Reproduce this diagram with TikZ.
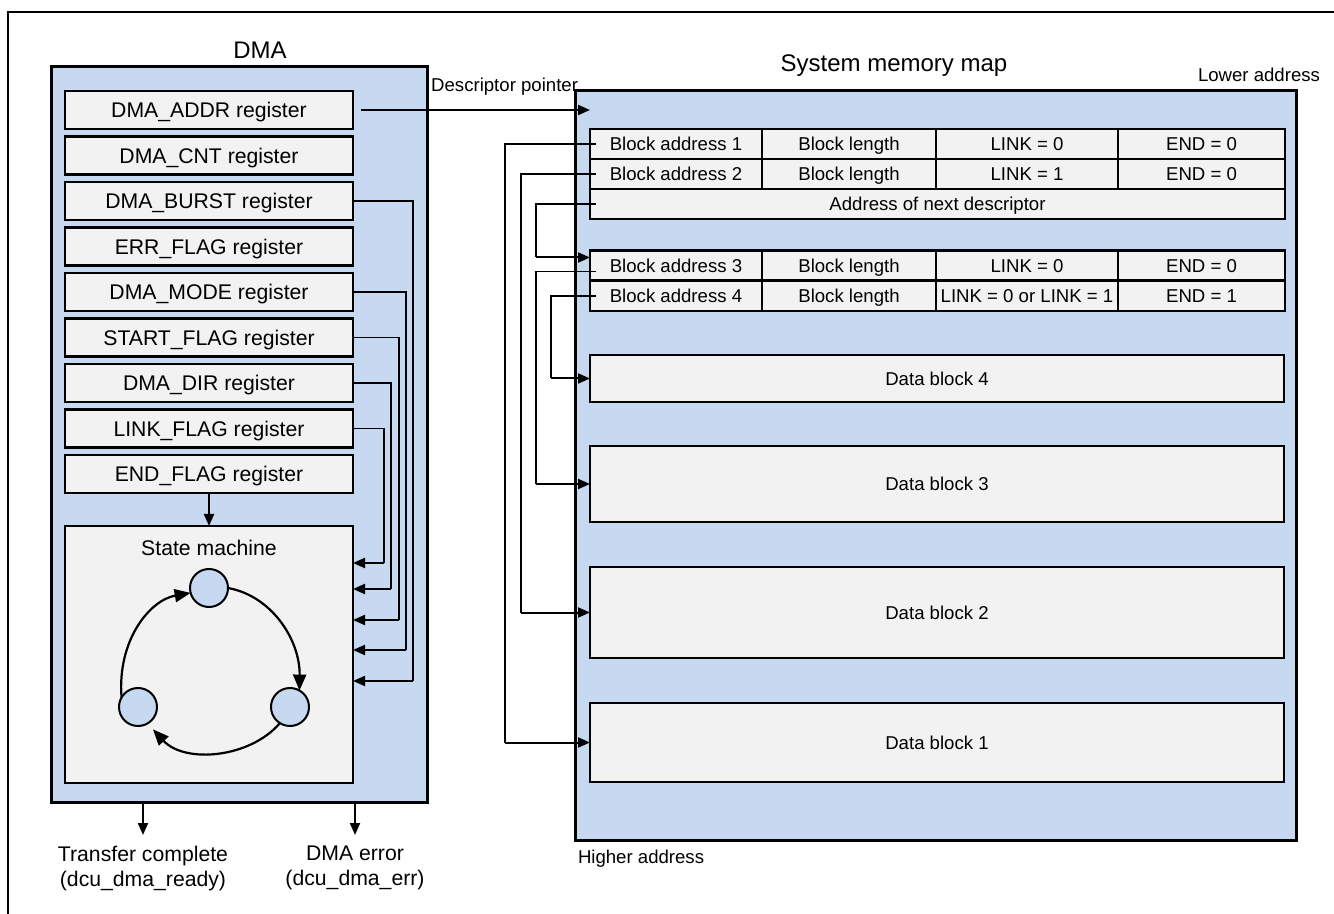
\documentclass[tikz,border=0pt]{standalone}
\usepackage{fontspec}
\setmainfont{Liberation Sans}
\usetikzlibrary{arrows.meta}
\definecolor{bluefill}{RGB}{198,217,240}
\definecolor{grayfill}{RGB}{242,242,242}
\tikzset{
 big/.style={font=\fontsize{10.6}{12.5}\selectfont, text height=7.6pt, text depth=0pt},
 small/.style={font=\fontsize{9.3}{11}\selectfont, text height=6.66pt, text depth=0pt},
 ttl/.style={font=\fontsize{12}{14}\selectfont, text height=8.6pt, text depth=0pt},
 bigml/.style={font=\fontsize{10.6}{12.5}\selectfont},
 panel/.style={draw, line width=1.5pt, fill=bluefill, inner sep=0pt, outer sep=0pt},
 reg/.style={draw, line width=1.3pt, fill=grayfill, minimum width=144pt, minimum height=19pt, inner sep=0pt, outer sep=0pt, big},
 cell/.style={draw, line width=1.3pt, fill=grayfill, minimum height=15pt, inner sep=0pt, outer sep=0pt, small},
 datab/.style={draw, line width=1.3pt, fill=grayfill, minimum width=347pt, inner sep=0pt, outer sep=0pt, small},
 stnode/.style={circle, draw, line width=1pt, fill=bluefill, minimum size=19pt, inner sep=0pt, outer sep=0pt},
 thinline/.style={line width=0.6pt},
 arr/.style={line width=1pt, -{Triangle[length=6pt,width=5pt]}},
 carr/.style={line width=1.1pt, -{Triangle[length=8pt,width=6.5pt]}},
 lbl/.style={inner sep=0pt, outer sep=0pt},
}
\begin{document}
\begin{tikzpicture}[x=0.5pt,y=-0.5pt]
\useasboundingbox (0,0) rectangle (1334,914);
% outer frame
\draw[line width=1pt] (8,930) -- (8,12) -- (1350,12);

% DMA panel
\node[panel, minimum width=188pt, minimum height=367.5pt] (dma) at (239,434.5) {};
\node[lbl, ttl] (dmat) at (260,50) {DMA};
\node[reg] (addr)  at (209,110)   {DMA\_ADDR register};
\node[reg] (cnt)   at (209,155.5) {DMA\_CNT register};
\node[reg] (burst) at (209,201)   {DMA\_BURST register};
\node[reg] (err)   at (209,246.5) {ERR\_FLAG register};
\node[reg] (mode)  at (209,292)   {DMA\_MODE register};
\node[reg] (start) at (209,337.5) {START\_FLAG register};
\node[reg] (dir)   at (209,383)   {DMA\_DIR register};
\node[reg] (link)  at (209,428.5) {LINK\_FLAG register};
\node[reg] (endf)  at (209,474)   {END\_FLAG register};
\node[reg, minimum height=128.5pt] (sm) at (209,654.5) {};
\node[lbl, big] (smt) at (209,548) {State machine};
\node[stnode] (s1) at (209,588) {};
\node[stnode] (s2) at (290,707) {};
\node[stnode] (s3) at (138,707) {};
\draw[carr] (s1.east) .. controls (272,596) and (300,640) .. (s2.60);
\draw[carr, shorten >=4pt] (s2.238) .. controls (250,758) and (185,764) .. (s3.300);
\draw[carr] (s3.150) .. controls (117,640) and (150,600) .. (s1.195);
\draw[arr] (endf.south) -- (sm.north);

% register -> state machine lines
\coordinate (k1) at (384,563);
\coordinate (k2) at (391,589);
\coordinate (k3) at (399,620);
\coordinate (k4) at (406,650);
\coordinate (k5) at (413,681);
\draw[thinline] (link.east) -| (k1);
\draw[thinline] (dir.east) -| (k2);
\draw[thinline] (start.east) -| (k3);
\draw[thinline] (mode.east) -| (k4);
\draw[thinline] (burst.east) -| (k5);
\draw[arr] (k1) -- (k1 -| sm.east);
\draw[arr] (k2) -- (k2 -| sm.east);
\draw[arr] (k3) -- (k3 -| sm.east);
\draw[arr] (k4) -- (k4 -| sm.east);
\draw[arr] (k5) -- (k5 -| sm.east);

% outputs
\coordinate (o1) at (143,835);
\coordinate (o2) at (355,835);
\draw[arr] (o1 |- dma.south) -- (o1);
\draw[arr] (o2 |- dma.south) -- (o2);
\node[lbl, bigml, align=center, anchor=north] (tc) at (143,846) {Transfer complete\\(dcu\_dma\_ready)};
\node[lbl, bigml, align=center, anchor=north] (de) at (355,846) {DMA error\\(dcu\_dma\_err)};

% memory map
\node[panel, minimum width=360.5pt, minimum height=374.5pt] (mem) at (935.5,465.5) {};
\node[lbl, ttl] (memt) at (894,63) {System memory map};
\node[lbl, small, anchor=east] (lower) at (1320,75) {Lower address};
\node[lbl, small, anchor=west] (higher) at (578,857) {Higher address};

\node[cell, minimum width=86pt]   (r1c1) at (676,144)    {Block address 1};
\node[cell, minimum width=87pt]   (r1c2) at (849,144)    {Block length};
\node[cell, minimum width=91pt]   (r1c3) at (1027,144)   {LINK = 0};
\node[cell, minimum width=83.5pt] (r1c4) at (1201.5,144) {END = 0};
\node[cell, minimum width=86pt]   (r2c1) at (676,174)    {Block address 2};
\node[cell, minimum width=87pt]   (r2c2) at (849,174)    {Block length};
\node[cell, minimum width=91pt]   (r2c3) at (1027,174)   {LINK = 1};
\node[cell, minimum width=83.5pt] (r2c4) at (1201.5,174) {END = 0};
\node[cell, minimum width=347.5pt] (nd) at (937.5,204) {Address of next descriptor};
\node[cell, minimum width=86pt]   (r3c1) at (676,265.5)    {Block address 3};
\node[cell, minimum width=87pt]   (r3c2) at (849,265.5)    {Block length};
\node[cell, minimum width=91pt]   (r3c3) at (1027,265.5)   {LINK = 0};
\node[cell, minimum width=83.5pt] (r3c4) at (1201.5,265.5) {END = 0};
\node[cell, minimum width=86pt]   (r4c1) at (676,296)    {Block address 4};
\node[cell, minimum width=87pt]   (r4c2) at (849,296)    {Block length};
\node[cell, minimum width=91pt]   (r4c3) at (1027,296)   {LINK = 0 or LINK = 1};
\node[cell, minimum width=83.5pt] (r4c4) at (1201.5,296) {END = 1};

\node[datab, minimum height=23.5pt] (db4) at (937,378.5) {Data block 4};
\node[datab, minimum height=38pt]   (db3) at (937,484)   {Data block 3};
\node[datab, minimum height=45.5pt] (db2) at (937,612.5) {Data block 2};
\node[datab, minimum height=39.5pt] (db1) at (937,742.5) {Data block 1};

\node[lbl, small, anchor=east] (dp) at (578,85) {Descriptor pointer};
\draw[arr] ([xshift=4pt]addr.east) -- (addr.east -| r1c1.west);

% descriptor -> data block connectors
\coordinate (v1) at (505,0);
\coordinate (v2) at (521,0);
\coordinate (v3) at (536,0);
\coordinate (v4) at (551,0);
\draw[thinline] ([xshift=3pt]r1c1.west) -- (r1c1.west -| v1) -- (v1 |- db1.west);
\draw[arr] (v1 |- db1.west) -- (db1.west);
\draw[thinline] ([xshift=3pt]r2c1.west) -- (r2c1.west -| v2) -- (v2 |- db2.west);
\draw[arr] (v2 |- db2.west) -- (db2.west);
\coordinate (ndin) at ([yshift=4pt]r3c1.west);
\draw[thinline] ([xshift=3pt]nd.west -| r1c1.west) -- (nd.west -| v3) -- (v3 |- ndin);
\draw[arr] (v3 |- ndin) -- (ndin);
\coordinate (b3out) at ([yshift=-3pt]r3c1.west);
\draw[thinline] ([xshift=3pt]b3out) -- (b3out -| v3) -- (v3 |- db3.west);
\draw[arr] (v3 |- db3.west) -- (db3.west);
\draw[thinline] ([xshift=3pt]r4c1.west) -- (r4c1.west -| v4) -- (v4 |- db4.west);
\draw[arr] (v4 |- db4.west) -- (db4.west);
\end{tikzpicture}
\end{document}
